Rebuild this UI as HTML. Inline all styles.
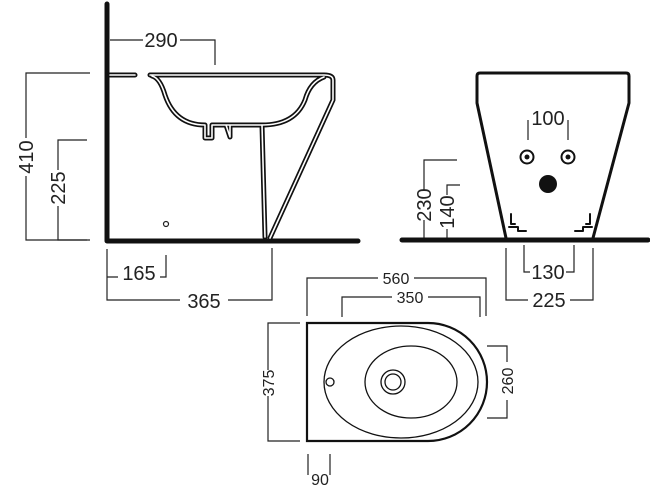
<!DOCTYPE html>
<html><head><style>body{margin:0;background:#fff}svg{display:block}text{font-family:"Liberation Sans",sans-serif;fill:#222}</style></head><body>
<svg width="650" height="500" viewBox="0 0 650 500" xmlns="http://www.w3.org/2000/svg">
<g fill="none" stroke="#222" stroke-width="1.2">
<path d="M110,40H143M180,40H215V65"/>
<path d="M90,73H26V138M26,176V240H90"/>
<path d="M87,140H58V170M58,206V240H87"/>
<path d="M107,249V283M107,277H118M160,277H166V255"/>
<path d="M107,283V300H180M228,300H272V248"/>
<path d="M528,120V140M568,120V140"/>
<path d="M457,160H424V190M424,220V240"/>
<path d="M460,185H447V195M447,229V240"/>
<path d="M524,245V272H530M566,272H574V245"/>
<path d="M506,248V300H528M570,300H593V248"/>
<path d="M307,316V278H378M414,278H486V316"/>
<path d="M342,317V297H392M428,297H480V317"/>
<path d="M300,323H268V370M268,396V441H300"/>
<path d="M487,346H507V362M507,400V418H487"/>
<path d="M308,454V475M330,454V475"/>
</g>
<g stroke-linecap="round" stroke-linejoin="round" fill="none">
<path d="M107,4V241H358" stroke="#111" stroke-width="5"/>
<g stroke="#111" stroke-width="5">
<path d="M110,75H135M150,75H324Q333,75 333,80V100L270,238"/>
<path d="M152,76Q160,78 165,95Q175,125 205,125V138H212V125H230V137L226,125H262L265,237"/>
<path d="M324,77Q310,82 305,100Q295,125 262,125"/>
</g>
<g stroke="#fff" stroke-width="1.6">
<path d="M110,75H135M150,75H324Q333,75 333,80V100L270,238"/>
<path d="M152,76Q160,78 165,95Q175,125 205,125V138H212V125H230V137L226,125H262L265,237"/>
<path d="M324,77Q310,82 305,100Q295,125 262,125"/>
</g>
<circle cx="166" cy="224" r="2.5" stroke="#222" stroke-width="1.2"/>
</g>
<g stroke-linecap="round" stroke-linejoin="round" fill="none" stroke="#111">
<path d="M402,240H648" stroke-width="5"/>
<path d="M506,238L477,103V76Q477,73 480,73H626Q629,73 629,76V103L593,238" stroke-width="3"/>
<path d="M511,214V224H515M509,227H518V231H526M590,214V224H586M592,227H583V231H575" stroke-width="2"/>
<circle cx="527" cy="157" r="6.5" stroke-width="2"/><circle cx="568" cy="157" r="6.5" stroke-width="2"/>
</g>
<circle cx="527" cy="157" r="2.5" fill="#111"/><circle cx="568" cy="157" r="2.5" fill="#111"/>
<circle cx="548" cy="184" r="9" fill="#111"/>
<g fill="none" stroke="#111">
<path d="M307,323H428A59,59 0 0 1 428,441H307Z" stroke-width="2.2"/>
<ellipse cx="401" cy="382" rx="77" ry="56" stroke-width="1.3"/>
<ellipse cx="411" cy="382" rx="46" ry="36" stroke-width="1.3"/>
<circle cx="393" cy="382" r="12" stroke-width="1.3"/><circle cx="393" cy="382" r="8" stroke-width="1.3"/>
<circle cx="330" cy="382" r="4" stroke-width="1.3"/>
</g>
<g font-size="20">
<text x="161" y="47" text-anchor="middle">290</text>
<text transform="translate(33,157) rotate(-90)" text-anchor="middle">410</text>
<text transform="translate(65,188) rotate(-90)" text-anchor="middle">225</text>
<text x="139" y="280" text-anchor="middle">165</text>
<text x="204" y="308" text-anchor="middle">365</text>
<text x="548" y="125" text-anchor="middle">100</text>
<text transform="translate(431,205) rotate(-90)" text-anchor="middle">230</text>
<text transform="translate(454,212) rotate(-90)" text-anchor="middle">140</text>
<text x="548" y="279" text-anchor="middle">130</text>
<text x="549" y="307" text-anchor="middle">225</text>
</g>
<g font-size="16">
<text x="396" y="284" text-anchor="middle">560</text>
<text x="410" y="303" text-anchor="middle">350</text>
<text transform="translate(274,383) rotate(-90)" text-anchor="middle">375</text>
<text transform="translate(513,381) rotate(-90)" text-anchor="middle">260</text>
<text x="320" y="485" text-anchor="middle">90</text>
</g>
</svg>
</body></html>
